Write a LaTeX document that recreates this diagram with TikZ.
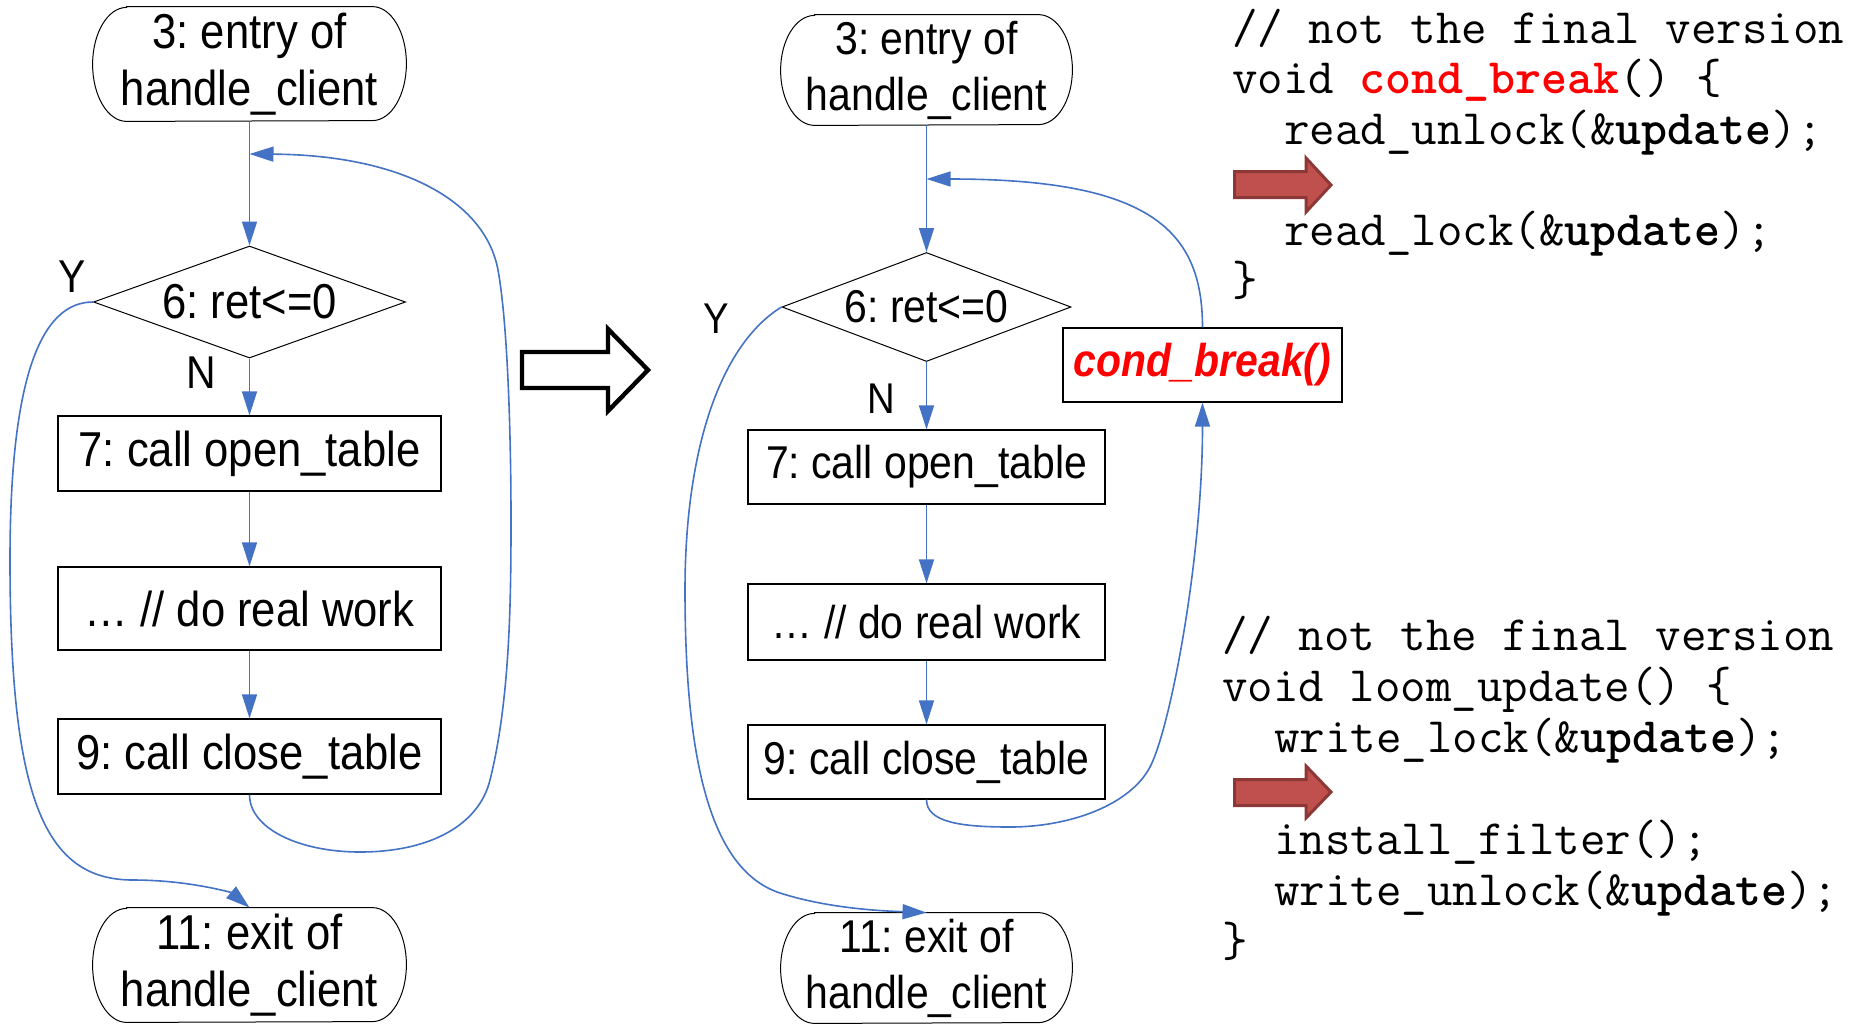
\documentclass[tikz,border=0pt]{standalone}
\usepackage{fontspec}
\usepackage{tikz}
\usetikzlibrary{shapes.geometric}
\usetikzlibrary{arrows.meta}
\usepackage{xcolor}

\newfontfamily\flowfont{Liberation Sans}[FakeStretch=0.89]

\definecolor{linkblue}{HTML}{4472C4}
\definecolor{condred}{HTML}{FF0000}
\definecolor{hintfill}{HTML}{C0504D}
\definecolor{hintedge}{HTML}{8C3836}

% outline of a start/end node: straight top and bottom, half ellipses at the ends
\newcommand{\stadium}[2]{%
    \draw[line width=0.5pt] ([xshift=17pt]#1.north west) -- ([xshift=-17pt]#1.north east)
        arc[start angle=90, end angle=-90, x radius=17pt, y radius=#2]
        -- ([xshift=17pt]#1.south west)
        arc[start angle=270, end angle=90, x radius=17pt, y radius=#2] -- cycle;}

\tikzset{
    flowtext/.style = {font=\flowfont\fontsize{24.5pt}{28.5pt}\selectfont, align=center},
    flowsmall/.style = {font=\flowfont\fontsize{23pt}{28pt}\selectfont, align=center},
    terminal/.style = {rectangle, inner sep=0pt},
    decision/.style = {draw, line width=0.5pt, diamond, aspect=2.8, inner sep=0pt},
    process/.style = {draw, line width=0.6pt, rectangle, inner sep=0pt},
    yn/.style = {font=\flowfont\fontsize{23pt}{27pt}\selectfont, inner sep=0pt},
    ynsmall/.style = {font=\flowfont\fontsize{21.5pt}{26pt}\selectfont, inner sep=0pt},
    link/.style = {draw=linkblue, line width=0.8pt, -{Triangle[length=12pt, width=7.5pt]}},
    code/.style = {font=\ttfamily\fontsize{24.76pt}{25pt}\selectfont, inner sep=0pt, anchor=base west},
    hint/.style = {fill=hintfill, draw=hintedge, line width=1.5pt}
}

\begin{document}
\frenchspacing
\begin{tikzpicture}[x=0.5pt, y=-0.5pt]
    \useasboundingbox (0,0) rectangle (1852,1024);

    % before
    \begin{scope}[flowtext]
        \node[terminal, minimum width=156.5pt, minimum height=57pt] (beginA) at (249.5,64) {3: entry of\\handle\_client};
        \node[decision, minimum width=156pt, minimum height=56pt] (testA) at (249.5,302) {6: ret<=0};
        \node[process, minimum width=191.5pt, minimum height=37.5pt] (openA) at (249.5,453.5) {7: call open\_table};
        \node[process, minimum width=191.5pt, minimum height=41.5pt] (workA) at (249.5,608.5) {… // do real work};
        \node[process, minimum width=191.5pt, minimum height=37.5pt] (closeA) at (249.5,756.5) {9: call close\_table};
        \node[terminal, minimum width=156.5pt, minimum height=57pt] (endA) at (249.5,965) {11: exit of\\handle\_client};
        \stadium{beginA}{28.5pt}
        \stadium{endA}{28.5pt}

        \node[yn] (yesA) at (72,277) {Y};
        \node[yn] (noA) at (201,373) {N};
        \coordinate (backA) at (249.5,154);

        \draw[link] (beginA.south) -- (testA.north);
        \draw[link] (testA.south) -- (openA.north);
        \draw[link] (openA.south) -- (workA.north);
        \draw[link] (workA.south) -- (closeA.north);
        \draw[link] (closeA.south) .. controls (249.5,829) and (300,852) .. (360,852)
            .. controls (430,852) and (479,825) .. (490,780)
            .. controls (510,700) and (511,600) .. (511,520)
            .. controls (511,440) and (508,325) .. (498,270)
            .. controls (485,200) and (400,155) .. (backA);
        \draw[link] (testA.west) .. controls (40,302) and (10,380) .. (10,560)
            .. controls (10,800) and (45,880) .. (133,880)
            .. controls (190,880) and (232,893) .. (endA.north);
    \end{scope}

    % hollow arrow
    \draw[line width=2.2pt] (522,352) -- (608,352) -- (608,329) -- (648,370) -- (608,411) -- (608,388) -- (522,388) -- cycle;

    % after
    \begin{scope}[flowsmall]
        \node[terminal, minimum width=145.5pt, minimum height=55pt] (beginB) at (926.5,70) {3: entry of\\handle\_client};
        \node[decision, minimum width=144.5pt, minimum height=54.5pt] (testB) at (926.5,307) {6: ret<=0};
        \node[process, minimum width=178.5pt, minimum height=37pt] (openB) at (926.5,467) {7: call open\_table};
        \node[process, minimum width=178.5pt, minimum height=38pt] (workB) at (926.5,622) {… // do real work};
        \node[process, minimum width=178.5pt, minimum height=37pt] (closeB) at (926.5,762) {9: call close\_table};
        \node[terminal, minimum width=145.5pt, minimum height=55pt] (endB) at (926.5,968) {11: exit of\\handle\_client};
        \stadium{beginB}{27.5pt}
        \stadium{endB}{27.5pt}
        \node[process, minimum width=139.5pt, minimum height=37pt, text=condred,
            font=\flowfont\bfseries\itshape\fontsize{23pt}{27pt}\selectfont] (brk) at (1202.5,365) {cond\_break()};

        \node[ynsmall] (yesB) at (716,319) {Y};
        \node[ynsmall] (noB) at (881,399) {N};
        \coordinate (backB) at (926.5,179);

        \draw[link] (beginB.south) -- (testB.north);
        \draw[link] (testB.south) -- (openB.north);
        \draw[link] (openB.south) -- (workB.north);
        \draw[link] (workB.south) -- (closeB.north);
        \draw[link] (closeB.south) .. controls (926.5,822) and (960,827) .. (1010,827)
            .. controls (1070,827) and (1130,805) .. (1150,767)
            .. controls (1170,729) and (1202.5,560) .. (brk.south);
        \draw[link] (brk.north) .. controls (1202.5,230) and (1150,179) .. (backB);
        \draw[link] (testB.west) .. controls (720,345) and (685,450) .. (685,590)
            .. controls (685,760) and (710,870) .. (780,893)
            .. controls (830,909) and (885,911) .. (endB.north);
    \end{scope}

    % code
    \filldraw[hint] (1234.5,171.5) -- (1306,171.5) -- (1306,158) -- (1331,185) -- (1306,212) -- (1306,197.5) -- (1234.5,197.5) -- cycle;
    \node[code] (c1) at (1232,43) {// not the final version};
    \node[code] (c2) at (1232,93.5) {void \textcolor{condred}{\textbf{cond\_break}}() \{};
    \node[code] (c3) at (1284,144) {read\_unlock(\&\textbf{update});};
    \node[code] (c4) at (1284,245) {read\_lock(\&\textbf{update});};
    \node[code] (c5) at (1232,295.5) {\}};

    \filldraw[hint] (1234.5,779.5) -- (1306,779.5) -- (1306,766) -- (1331,792) -- (1306,818) -- (1306,805.5) -- (1234.5,805.5) -- cycle;
    \node[code] (d1) at (1222,650) {// not the final version};
    \node[code] (d2) at (1222,701) {void loom\_update() \{};
    \node[code] (d3) at (1274,752) {write\_lock(\&\textbf{update});};
    \node[code] (d4) at (1274,854) {install\_filter();};
    \node[code] (d5) at (1274,905) {write\_unlock(\&\textbf{update});};
    \node[code] (d6) at (1222,956) {\}};

\end{tikzpicture}
\end{document}
